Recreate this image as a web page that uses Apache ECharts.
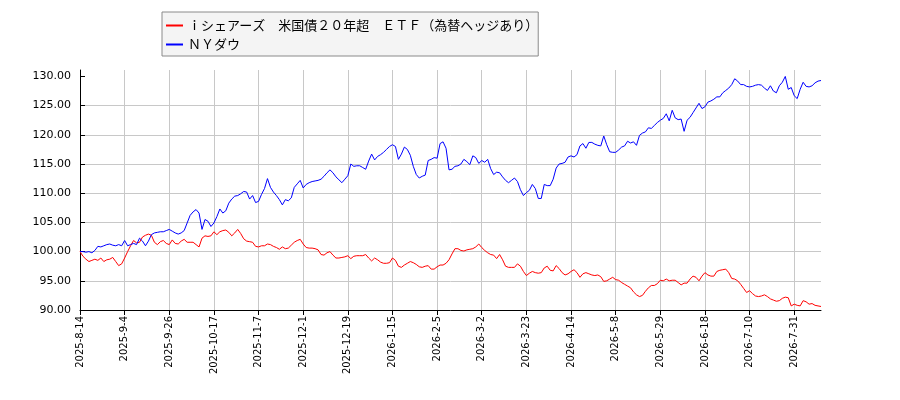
<!DOCTYPE html>
<html>
<head>
<meta charset="utf-8">
<script src="https://cdn.jsdelivr.net/npm/echarts@6/dist/echarts.min.js"></script>
<style>
html,body{margin:0;padding:0;background:#fff;}
#chart{width:900px;height:400px;}
</style>
</head>
<body>
<div id="chart"></div>
<script>
// 目盛りの日付（15営業日ごと）
var tickDates = ["2025-8-14","2025-9-4","2025-9-26","2025-10-17","2025-11-7","2025-12-1","2025-12-19",
	"2026-1-15","2026-2-5","2026-3-2","2026-3-23","2026-4-14","2026-5-8","2026-5-29","2026-6-18",
	"2026-7-10","2026-7-31"];
var tailDates = ["2026-8-3","2026-8-4","2026-8-5","2026-8-6","2026-8-7","2026-8-10","2026-8-11","2026-8-12","2026-8-13"];

var seriesNames = ["ｉシェアーズ　米国債２０年超　ＥＴＦ（為替ヘッジあり）","ＮＹダウ"];

// ｉシェアーズ 米国債20年超 ETF（為替ヘッジあり）
var etfValues = [
	100.0, 99.2, 98.7, 98.3, 98.5, 98.7, 98.5, 98.9, 98.3, 98.6,
	98.7, 99.0, 98.3, 97.6, 97.9, 98.9, 100.0, 101.0, 101.9, 101.5,
	101.6, 102.5, 102.8, 103.0, 102.8, 101.6, 101.2, 101.7, 101.9, 101.4,
	101.2, 102.0, 101.4, 101.3, 101.8, 102.1, 101.6, 101.6, 101.6, 101.2,
	100.8, 102.3, 102.7, 102.6, 102.7, 103.4, 102.9, 103.4, 103.6, 103.7,
	103.3, 102.7, 103.2, 103.8, 103.1, 102.2, 101.8, 101.7, 101.6, 100.9,
	100.8, 101.0, 101.0, 101.3, 101.2, 100.9, 100.7, 100.4, 100.8, 100.5,
	100.6, 101.1, 101.6, 101.9, 102.1, 101.3, 100.7, 100.6, 100.6, 100.5,
	100.3, 99.5, 99.4, 99.8, 100.0, 99.4, 98.9, 98.9, 99.0, 99.1,
	99.3, 98.8, 99.2, 99.3, 99.3, 99.3, 99.5, 98.9, 98.4, 98.9,
	98.6, 98.2, 98.0, 98.0, 98.1, 98.9, 98.5, 97.5, 97.3, 97.7,
	98.0, 98.3, 98.1, 97.8, 97.4, 97.3, 97.5, 97.6, 97.0, 97.0,
	97.4, 97.7, 97.7, 98.0, 98.6, 99.6, 100.5, 100.5, 100.2, 100.1,
	100.3, 100.4, 100.5, 100.8, 101.3, 100.7, 100.2, 99.8, 99.5, 99.4,
	98.8, 99.5, 98.6, 97.5, 97.3, 97.3, 97.3, 97.9, 97.5, 96.6,
	95.9, 96.3, 96.6, 96.4, 96.3, 96.4, 97.2, 97.5, 96.8, 96.7,
	97.6, 97.1, 96.4, 96.0, 96.2, 96.6, 96.9, 96.4, 95.6, 96.2,
	96.4, 96.2, 96.0, 95.9, 96.0, 95.7, 94.9, 95.0, 95.3, 95.6,
	95.2, 95.1, 94.7, 94.4, 94.1, 93.8, 93.1, 92.6, 92.3, 92.5,
	93.2, 93.8, 94.2, 94.2, 94.5, 95.1, 95.0, 95.3, 95.0, 95.1,
	95.1, 94.7, 94.3, 94.6, 94.6, 95.3, 95.8, 95.6, 95.0, 95.8,
	96.4, 96.0, 95.8, 95.8, 96.6, 96.8, 96.9, 97.0, 96.4, 95.4,
	95.3, 95.0, 94.4, 93.7, 93.0, 93.3, 92.8, 92.4, 92.3, 92.4,
	92.6, 92.3, 91.9, 91.7, 91.5, 91.6, 92.0, 92.2, 92.1, 90.7,
	91.0, 90.8, 90.7, 91.6, 91.4, 91.0, 91.1, 90.8, 90.7, 90.6
];

// NYダウ
var dowValues = [
	100.0, 100.0, 99.9, 100.0, 99.8, 100.2, 100.9, 100.8, 101.0, 101.2,
	101.3, 101.1, 101.0, 101.2, 101.0, 101.9, 101.0, 101.2, 101.4, 101.2,
	102.3, 101.8, 101.0, 101.8, 102.9, 103.2, 103.3, 103.4, 103.4, 103.6,
	103.8, 103.5, 103.2, 103.0, 103.2, 103.6, 104.9, 106.2, 106.8, 107.2,
	106.6, 103.8, 105.5, 105.2, 104.3, 104.9, 106.0, 107.3, 106.6, 107.0,
	108.3, 109.0, 109.5, 109.6, 109.9, 110.3, 110.2, 109.0, 109.6, 108.4,
	108.6, 109.8, 110.8, 112.5, 111.0, 110.2, 109.6, 108.9, 108.0, 108.9,
	108.7, 109.2, 111.0, 111.6, 112.2, 110.9, 111.5, 111.8, 112.0, 112.1,
	112.2, 112.4, 112.9, 113.5, 114.0, 113.5, 112.8, 112.3, 111.8, 112.4,
	113.0, 115.0, 114.6, 114.7, 114.7, 114.4, 114.1, 115.5, 116.7, 115.7,
	116.3, 116.6, 117.0, 117.5, 118.0, 118.3, 118.0, 115.8, 116.7, 117.9,
	117.5, 116.5, 114.6, 113.2, 112.6, 112.9, 113.1, 115.6, 115.8, 116.1,
	116.0, 118.5, 118.8, 117.7, 114.0, 114.1, 114.6, 114.7, 115.0, 115.8,
	115.4, 114.9, 116.4, 116.1, 115.1, 115.6, 115.3, 115.8, 114.2, 113.2,
	113.6, 113.5, 112.8, 112.2, 111.8, 112.2, 112.6, 112.0, 110.6, 109.6,
	110.1, 110.5, 111.5, 110.8, 109.1, 109.1, 111.5, 111.3, 111.3, 112.4,
	114.3, 115.0, 115.1, 115.3, 116.2, 116.4, 116.2, 116.6, 118.1, 118.5,
	117.7, 118.7, 118.7, 118.4, 118.2, 118.1, 119.8, 118.3, 117.1, 117.0,
	117.0, 117.4, 117.9, 118.1, 118.9, 118.6, 118.8, 118.2, 119.9, 120.3,
	120.5, 121.2, 121.1, 121.6, 122.1, 122.5, 122.8, 123.6, 122.4, 124.2,
	122.9, 122.6, 122.7, 120.6, 122.5, 123.0, 123.8, 124.6, 125.4, 124.5,
	124.8, 125.6, 125.8, 126.1, 126.5, 126.5, 127.2, 127.6, 128.0, 128.6,
	129.6, 129.2, 128.6, 128.6, 128.3, 128.2, 128.3, 128.5, 128.6, 128.5,
	128.0, 127.6, 128.4, 127.5, 127.2, 128.4, 129.0, 130.0, 127.8, 128.1,
	126.7, 126.2, 127.8, 129.0, 128.3, 128.2, 128.4, 128.9, 129.2, 129.3
];

var yTicks = [90, 95, 100, 105, 110, 115, 120, 125, 130];

/**
 * 目盛りの日付の間を営業日で埋める（1区間15件）
 */
function fmtDate(d){
	return d.getFullYear()+"-"+(d.getMonth()+1)+"-"+d.getDate();
}
function parseDate(s){
	var p = s.split("-");
	return new Date(+p[0], +p[1]-1, +p[2]);
}
function buildDates(){
	var list = [];
	for(var i = 0;i < tickDates.length-1;i++){
		var a = parseDate(tickDates[i]);
		var b = parseDate(tickDates[i+1]);
		var week = [], all = [];
		for(var d = new Date(a.getTime()+86400000); d < b; d = new Date(d.getTime()+86400000)){
			all.push(fmtDate(d));
			if(d.getDay()!=0 && d.getDay()!=6){
				week.push(fmtDate(d));
			}
		}
		var src = week.length >= 14 ? week : all;
		list.push(tickDates[i]);
		for(var j = 0;j < 14;j++){
			list.push(src[j]);
		}
	}
	list.push(tickDates[tickDates.length-1]);
	return list.concat(tailDates);
}
var dates = buildDates();

var chart = echarts.init(document.getElementById("chart"));
var option = {
	animation:false,
	backgroundColor:'#ffffff',
	legend:{
		orient:'vertical',
		left:162,
		top:12,
		backgroundColor:'#f4f4f4',
		borderColor:'#8a8a8a',
		borderWidth:1,
		borderRadius:0,
		padding:[7,0,5,4],
		itemGap:6,
		itemWidth:17,
		itemHeight:2,
		icon:'rect',
		textStyle:{
			fontFamily:'Noto Sans CJK JP',
			fontSize:13,
			lineHeight:13,
			color:'#000'
		},
		data:seriesNames
	},
	grid:{
		left:80,
		right:79,
		top:70,
		bottom:90
	},
	xAxis:{
		type:'category',
		data:dates,
		boundaryGap:false,
		axisLine:{lineStyle:{color:'#000',width:1}},
		axisTick:{
			interval:14,
			length:5,
			lineStyle:{color:'#000'}
		},
		axisLabel:{
			interval:14,
			rotate:90,
			margin:6,
			fontFamily:'DejaVu Sans',
			fontSize:10,
			color:'#000'
		},
		splitLine:{
			show:true,
			interval:14,
			lineStyle:{color:'#c8c8c8',width:1}
		}
	},
	yAxis:{
		type:'value',
		min:90,
		max:131.1,
		interval:5,
		axisLine:{show:true,lineStyle:{color:'#000',width:1}},
		axisTick:{
			show:true,
			inside:true,
			length:5,
			customValues:yTicks,
			lineStyle:{color:'#000'}
		},
		axisLabel:{
			customValues:yTicks,
			margin:9,
			fontFamily:'DejaVu Sans',
			fontSize:11,
			color:'#000',
			formatter:function(v){
				return v.toFixed(2);
			}
		},
		splitLine:{
			show:true,
			showMaxLine:false,
			lineStyle:{color:'#c8c8c8',width:1}
		}
	},
	series:[{
		name:seriesNames[0],
		type:'line',
		data:etfValues,
		showSymbol:false,
		color:'#ff0000',
		lineStyle:{width:1,color:'#ff0000'}
	},{
		name:seriesNames[1],
		type:'line',
		data:dowValues,
		showSymbol:false,
		color:'#0000ff',
		lineStyle:{width:1,color:'#0000ff'}
	}]
};
chart.setOption(option);
</script>
</body>
</html>
